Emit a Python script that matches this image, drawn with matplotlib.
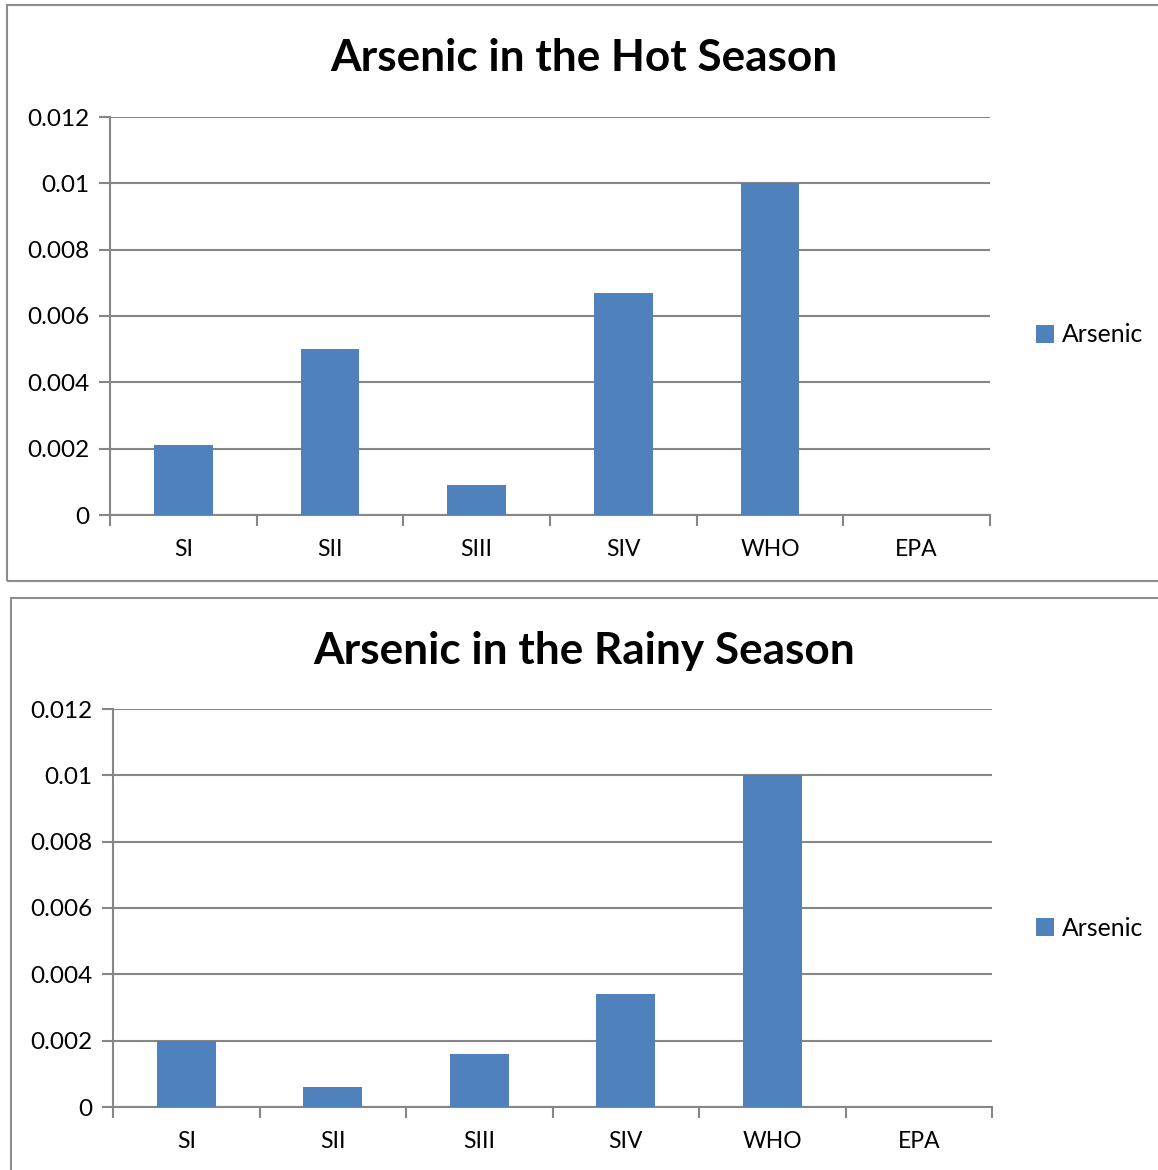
import matplotlib
matplotlib.use("Agg")
import matplotlib.pyplot as plt
from matplotlib.patches import Rectangle, Patch
from matplotlib.ticker import FixedLocator, FixedFormatter

categories = ["SI", "SII", "SIII", "SIV", "WHO", "EPA"]
hot_season = [0.0021, 0.005, 0.0009, 0.0067, 0.01, 0.0]
rainy_season = [0.002, 0.0006, 0.0016, 0.0034, 0.01, 0.0]
yticks = [0, 0.002, 0.004, 0.006, 0.008, 0.01, 0.012]
ytick_labels = ["0", "0.002", "0.004", "0.006", "0.008", "0.01", "0.012"]
series_name = "Arsenic"

W, H = 1158, 1170
BAR = "#4F81BD"
GRID = "#868686"
FONT = "Lato"

fig = plt.figure(figsize=(W / 100, H / 100), dpi=100)
fig.patch.set_facecolor("white")


def px_rect(x0, y0, x1, y1):
    return [x0 / W, 1 - y1 / H, (x1 - x0) / W, (y1 - y0) / H]


def panel(frame, axrect, title, title_y, values, legend_y):
    fx0, fy0, fx1, fy1 = frame
    fig.patches.append(Rectangle((fx0 / W, 1 - fy1 / H), (fx1 - fx0) / W, (fy1 - fy0) / H,
                                 transform=fig.transFigure, fill=False,
                                 edgecolor="#8c8c8c", linewidth=1.5))
    ax = fig.add_axes(px_rect(*axrect))
    x = list(range(len(categories)))
    ax.bar(x, values, width=0.4, color=BAR, zorder=3)
    ax.set_xlim(-0.5, len(categories) - 0.5)
    ax.set_ylim(0, 0.012)
    ax.yaxis.set_major_locator(FixedLocator(yticks))
    ax.yaxis.set_major_formatter(FixedFormatter(ytick_labels))
    ax.xaxis.set_major_locator(FixedLocator([i - 0.5 for i in range(len(categories) + 1)]))
    ax.xaxis.set_major_formatter(FixedFormatter([""] * (len(categories) + 1)))
    ax.xaxis.set_minor_locator(FixedLocator(x))
    ax.xaxis.set_minor_formatter(FixedFormatter(categories))
    ax.tick_params(axis="x", which="major", length=8, width=1.5, color=GRID)
    ax.tick_params(axis="x", which="minor", length=0, pad=17, labelsize=16.5)
    ax.tick_params(axis="y", which="major", length=8, width=1.5, color=GRID,
                   labelsize=17.5, pad=7)
    for lab in ax.get_xticklabels(minor=True) + ax.get_yticklabels():
        lab.set_fontfamily(FONT)
    ax.grid(axis="y", color=GRID, linewidth=1.5, zorder=0)
    for s in ("top", "right"):
        ax.spines[s].set_visible(False)
    for s in ("left", "bottom"):
        ax.spines[s].set_color(GRID)
        ax.spines[s].set_linewidth(1.5)
    ax.set_facecolor("none")
    fig.text(584 / W, 1 - title_y / H, title,
             ha="center", va="center", fontsize=31.8, fontweight="bold", fontfamily=FONT)
    fig.legend(handles=[Patch(facecolor=BAR, label=series_name)],
               loc="center left", bbox_to_anchor=(1014 / W, 1 - legend_y / H),
               frameon=False, handlelength=0.7, handleheight=0.7, handletextpad=0.35,
               prop={"family": FONT, "size": 17.8})
    return ax


panel((7, 5, 1175, 581), (110, 117, 990, 515), "Arsenic in the Hot Season", 58,
      hot_season, 335)
panel((11, 598, 1175, 1190), (113, 709, 992, 1107), "Arsenic in the Rainy Season", 651,
      rainy_season, 928)

fig.savefig("out.png", dpi=100)
